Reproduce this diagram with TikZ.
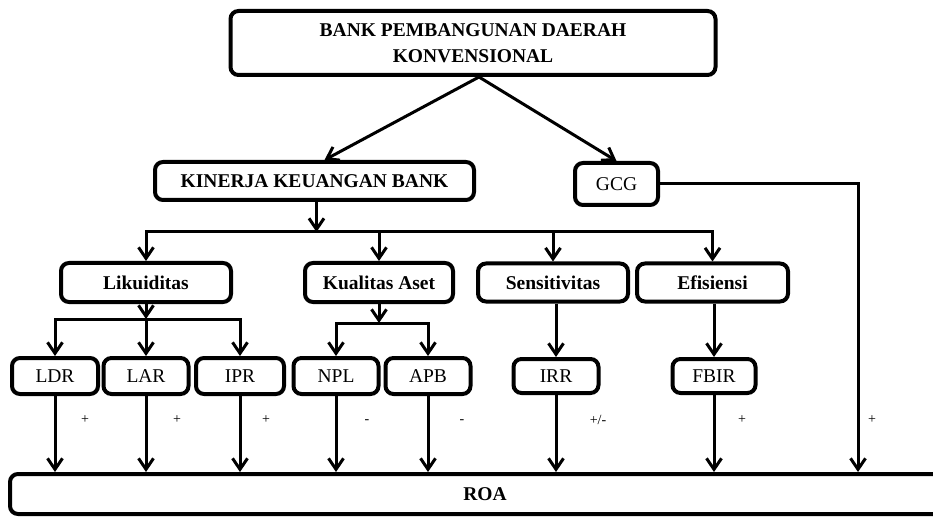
\documentclass[tikz,border=0pt]{standalone}
\usepackage{fontspec}
\setmainfont{Liberation Serif}
\usetikzlibrary{arrows.meta}
\begin{document}
\begin{tikzpicture}[x=1pt,y=-1pt,
 box/.style={draw, line width=4pt, rounded corners=8pt, inner sep=0pt, align=center, font=\fontsize{19.5}{26}\selectfont},
 bbox/.style={box, font=\fontsize{19.5}{26}\selectfont\bfseries},
 arr/.style={line width=3pt, -{Straight Barb[length=11pt,width=15pt,line width=3pt]}},
 sign/.style={font=\fontsize{14}{16}\selectfont}]
\useasboundingbox (0,0) rectangle (933,518);
\clip (0,0) rectangle (933,518);
\fill[white] (0,0) rectangle (933,518);
% nodes
\node[bbox, minimum width=485pt, minimum height=64pt] (top) at (473,43) {BANK PEMBANGUNAN DAERAH\\KONVENSIONAL};
\node[bbox, minimum width=319pt, minimum height=38pt] (kin) at (314.5,181) {KINERJA KEUANGAN BANK};
\node[box, minimum width=83pt, minimum height=42pt] (gcg) at (616.5,184) {GCG};
\node[bbox, minimum width=170pt, minimum height=39pt] (lik) at (146,282.5) {Likuiditas};
\node[bbox, minimum width=148pt, minimum height=39pt] (kua) at (379,282.5) {Kualitas Aset};
\node[bbox, minimum width=150pt, minimum height=38pt] (sen) at (553,282.5) {Sensitivitas};
\node[bbox, minimum width=151pt, minimum height=38pt] (efi) at (712.5,282.5) {Efisiensi};
\node[box, minimum width=86pt, minimum height=36pt] (ldr) at (55,376) {LDR};
\node[box, minimum width=85pt, minimum height=36pt] (lar) at (146,376) {LAR};
\node[box, minimum width=88pt, minimum height=36pt] (ipr) at (240,376) {IPR};
\node[box, minimum width=85pt, minimum height=36pt] (npl) at (336,376) {NPL};
\node[box, minimum width=85pt, minimum height=36pt] (apb) at (428,376) {APB};
\node[box, minimum width=85pt, minimum height=34pt] (irr) at (556,376) {IRR};
\node[box, minimum width=83pt, minimum height=34pt] (fbir) at (714,376) {FBIR};
\node[bbox, minimum width=950pt, minimum height=40pt] (roa) at (485,494) {ROA};
% bus coordinates
\coordinate (b1) at (0,232);
\coordinate (b2) at (0,319);
\coordinate (b3) at (0,323);
\coordinate (g1) at (858,0);
% top arrows
\draw[arr] ([xshift=6pt]top.south) -- ([xshift=10pt]kin.north);
\draw[arr] ([xshift=6pt]top.south) -- (gcg.north);
% GCG to ROA
\draw[arr] (gcg.east) -| (g1 |- roa.north);
% Kinerja bus
\draw[arr] ([xshift=2pt]kin.south) -- ([xshift=2pt]kin.south |- b1);
\draw[arr] ([xshift=2pt]kin.south |- b1) -| (lik.north);
\draw[arr] ([xshift=2pt]kin.south |- b1) -| (efi.north);
\draw[arr] (kua.north |- b1) -- (kua.north);
\draw[arr] (sen.north |- b1) -- (sen.north);
% Likuiditas bus
\draw[arr] (lik.south) -- (lik.south |- b2);
\draw[arr] (lar.north |- b2) -| (ldr.north);
\draw[arr] (lar.north |- b2) -| (ipr.north);
\draw[arr] (lar.north |- b2) -- (lar.north);
% Kualitas bus
\draw[arr] (kua.south) -- (kua.south |- b3);
\draw[arr] (kua.south |- b3) -| (npl.north);
\draw[arr] (kua.south |- b3) -| (apb.north);
% Sensitivitas, Efisiensi
\draw[arr] (irr.north |- sen.south) -- (irr.north);
\draw[arr] (fbir.north |- efi.south) -- (fbir.north);
% to ROA
\foreach \n in {ldr,lar,ipr,npl,apb,irr,fbir}
  \draw[arr] (\n.south) -- (\n.south |- roa.north);
% signs
\node[sign] (s1) at (85,420) {+};
\node[sign] (s2) at (177,420) {+};
\node[sign] (s3) at (266,420) {+};
\node[sign] (s4) at (367,422) {-};
\node[sign] (s5) at (462,422) {-};
\node[sign] (s6) at (598,420) {+/-};
\node[sign] (s7) at (742,420) {+};
\node[sign] (s8) at (872,420) {+};
\end{tikzpicture}
\end{document}
